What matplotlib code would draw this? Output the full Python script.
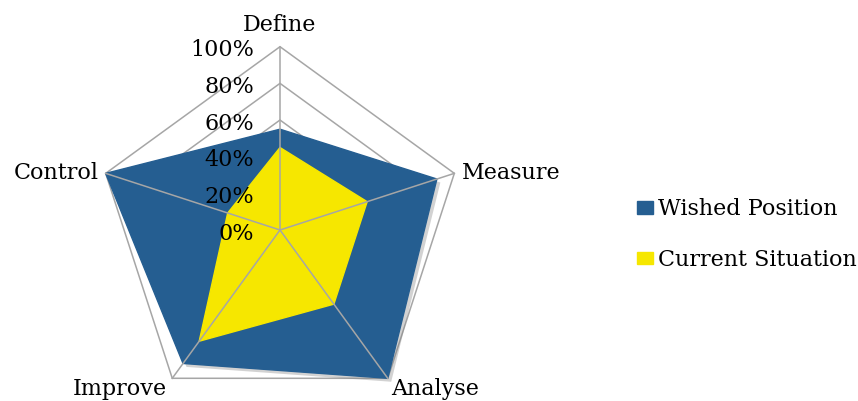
import numpy as np
import matplotlib.pyplot as plt
import matplotlib.patheffects as pe

categories = ["Define", "Measure", "Analyse", "Improve", "Control"]
wished_position = [55, 90, 100, 90, 100]
current_situation = [45, 50, 50, 75, 30]
levels = [0, 20, 40, 60, 80, 100]
level_labels = ["0%", "20%", "40%", "60%", "80%", "100%"]

BLUE = "#255E91"
YELLOW = "#F6E700"
GRID = "#A6A6A6"
FONT = "DejaVu Serif"
FS = 16

angles = np.pi / 2 - np.arange(len(categories)) * 2 * np.pi / len(categories)


def to_xy(values):
    r = np.asarray(values, dtype=float) / 100.0
    return r * np.cos(angles), r * np.sin(angles)


fig = plt.figure(figsize=(8.58, 4.01), dpi=100)
ax = fig.add_axes([0, 0, 1, 1])
ax.set_xlim(-280 / 183.3, (858 - 280) / 183.3)
ax.set_ylim(-171 / 183.3, 230 / 183.3)
ax.axis("off")

# pentagon grid behind the series
for lv in levels[1:]:
    gx, gy = to_xy([lv] * len(categories))
    ax.fill(np.append(gx, gx[0]), np.append(gy, gy[0]), fill=False,
            edgecolor=GRID, linewidth=1.1, zorder=1)

wx, wy = to_xy(wished_position)
ax.fill(wx, wy, color=BLUE, label="Wished Position", zorder=2,
        path_effects=[pe.SimplePatchShadow(offset=(2.5, -2.5), shadow_rgbFace="#808080", alpha=0.35),
                      pe.Normal()])
cx, cy = to_xy(current_situation)
ax.fill(cx, cy, color=YELLOW, label="Current Situation", zorder=3)

# spokes on top
sx, sy = to_xy([100] * len(categories))
for x, y in zip(sx, sy):
    ax.plot([0, x], [0, y], color=GRID, linewidth=1.1, zorder=4)

# radial value labels
for lv, lab in zip(levels, level_labels):
    ax.text(-0.14, lv / 100.0 - 0.02, lab, ha="right", va="center",
            fontsize=FS, family=FONT, zorder=5)

# category labels
offsets = [(0, 0.06, "center", "bottom"), (0.04, 0, "left", "center"),
           (0.02, 0.0, "left", "top"), (-0.03, 0.0, "right", "top"),
           (-0.04, 0, "right", "center")]
for name, x, y, (dx, dy, ha, va) in zip(categories, sx, sy, offsets):
    ax.text(x + dx, y + dy, name, ha=ha, va=va, fontsize=FS, family=FONT)

leg = ax.legend(loc="center left", bbox_to_anchor=(637 / 858, 0.415), frameon=False,
                prop={"family": FONT, "size": FS}, handlelength=0.7, handleheight=0.5,
                handletextpad=0.25, labelspacing=1.3, borderpad=0, borderaxespad=0)
for h in leg.legend_handles:
    h.set_path_effects([])

fig.savefig("out.png", dpi=100)
